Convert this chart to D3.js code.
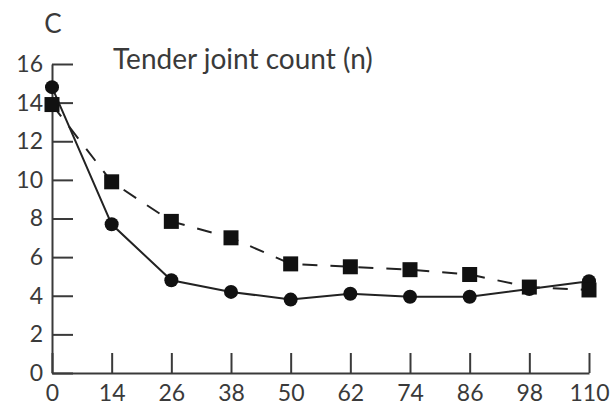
<!DOCTYPE html>
<html>
<head>
<meta charset="utf-8">
<script src="https://cdn.jsdelivr.net/npm/d3@7"></script>
<style>
  html, body { margin: 0; padding: 0; background: #fff; }
  svg { display: block; }
  .axis text { font-family: Lato, 'Noto Sans', sans-serif; font-size: 23px; fill: #3a3a3a; }
  .axis path, .axis line { stroke: #3a3a3a; stroke-width: 2; }
</style>
</head>
<body>
<svg id="chart" width="613" height="408"></svg>
<script>
const days     = ['0', '14', '26', '38', '50', '62', '74', '86', '98', '110'];
const circles  = [14.8, 7.7, 4.8, 4.2, 3.8, 4.1, 3.95, 3.95, 4.35, 4.75];  // solid line
const squares  = [13.9, 9.9, 7.85, 7.0, 5.65, 5.5, 5.35, 5.1, 4.45, 4.3]; // dashed line
const yTicks   = [0, 2, 4, 6, 8, 10, 12, 14, 16];

const panelLabel = 'C';
const title      = 'Tender joint count (n)';

const ink = '#222';
const svg = d3.select('#chart');

const x = d3.scalePoint().domain(days).range([52, 589]);
const y = d3.scaleLinear().domain([0, 16]).range([373, 64]);

// ── axes (ticks point inward) ─────────────────────────────────
svg.append('g')
  .attr('class', 'axis')
  .attr('transform', 'translate(0,373)')
  .call(d3.axisBottom(x).tickSizeInner(-20).tickSizeOuter(0).tickPadding(12));

svg.append('g')
  .attr('class', 'axis')
  .attr('transform', 'translate(52,0)')
  .call(d3.axisLeft(y).tickValues(yTicks).tickSizeInner(-21).tickSizeOuter(0).tickPadding(9));

// ── lines ─────────────────────────────────────────────────────
const line = vals => d3.line()
  .x((d, i) => x(days[i]))
  .y(d => y(d))(vals);

svg.append('path')
  .attr('d', line(squares))
  .attr('fill', 'none')
  .attr('stroke', ink)
  .attr('stroke-width', 2)
  .attr('stroke-dasharray', '15 13');

svg.append('path')
  .attr('d', line(circles))
  .attr('fill', 'none')
  .attr('stroke', ink)
  .attr('stroke-width', 2);

// ── markers ───────────────────────────────────────────────────
svg.append('g').selectAll('circle')
  .data(circles)
  .join('circle')
  .attr('cx', (d, i) => x(days[i]))
  .attr('cy', d => y(d))
  .attr('r', 7)
  .attr('fill', '#111');

const S = 15;
svg.append('g').selectAll('rect')
  .data(squares)
  .join('rect')
  .attr('x', (d, i) => x(days[i]) - S / 2)
  .attr('y', d => y(d) - S / 2)
  .attr('width', S)
  .attr('height', S)
  .attr('fill', '#111');

// ── labels ────────────────────────────────────────────────────
svg.append('text')
  .attr('x', 53)
  .attr('y', 33)
  .attr('text-anchor', 'middle')
  .attr('font-family', "Lato, 'Noto Sans', sans-serif")
  .attr('font-size', 26)
  .attr('fill', '#3a3a3a')
  .text(panelLabel);

svg.append('text')
  .attr('x', 113)
  .attr('y', 69)
  .attr('font-family', "Lato, 'Noto Sans', sans-serif")
  .attr('font-size', 28)
  .attr('fill', '#3a3a3a')
  .text(title);
</script>
</body>
</html>
